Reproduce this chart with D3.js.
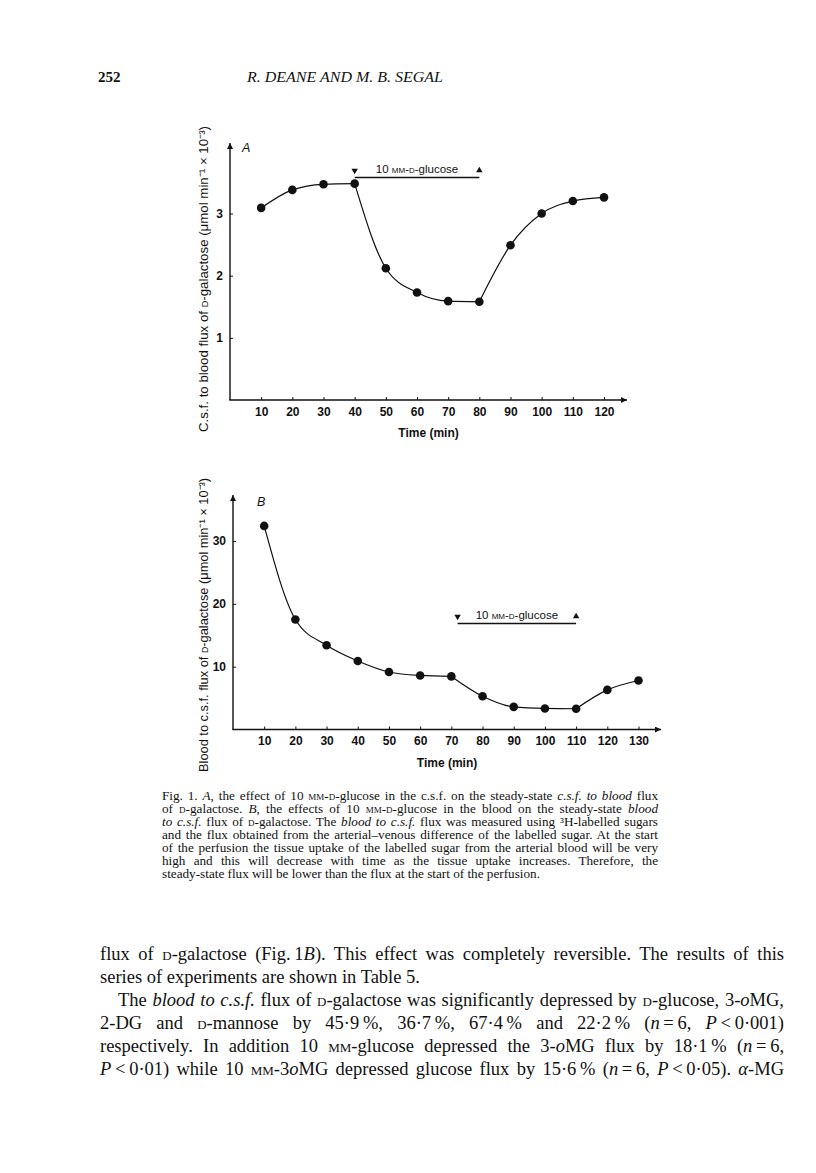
<!DOCTYPE html>
<html>
<head>
<meta charset="utf-8">
<script src="https://cdn.jsdelivr.net/npm/d3@7"></script>
<style>
  body { margin: 0; background: #fff; }
  text { fill: #111; }
</style>
</head>
<body>
<svg id="page" width="816" height="1173"></svg>
<script>
// ---- panel A: c.s.f. to blood flux ----
var timeA = [10, 20, 30, 40, 50, 60, 70, 80, 90, 100, 110, 120];
var fluxA = [3.09, 3.38, 3.47, 3.48, 2.12, 1.73, 1.59, 1.58, 2.49, 3.0, 3.2, 3.26];
var breaksA = [40, 80];          // the hand drawn curve has corners here
var glucoseA = [40, 80];         // 10 mM-D-glucose in the c.s.f.
var xTicksA = [10, 20, 30, 40, 50, 60, 70, 80, 90, 100, 110, 120];
var yTicksA = [1, 2, 3];

// ---- panel B: blood to c.s.f. flux ----
var timeB = [10, 20, 30, 40, 50, 60, 70, 80, 90, 100, 110, 120, 130];
var fluxB = [32.4, 17.5, 13.4, 10.9, 9.15, 8.6, 8.45, 5.3, 3.6, 3.35, 3.3, 6.3, 7.8];
var breaksB = [70, 110];
var glucoseB = [72, 110];        // 10 mM-D-glucose in the blood
var xTicksB = [10, 20, 30, 40, 50, 60, 70, 80, 90, 100, 110, 120, 130];
var yTicksB = [10, 20, 30];

// ---- text of the page: [text, style] pieces, style i = italic, sc = small caps ----
var header = ["252", "R. DEANE AND M. B. SEGAL"];

var caption = [
  [["Fig. 1. "], ["A", "i"], [", the effect of 10 "], ["mm-d-", "sc"], ["glucose in the c.s.f. on the steady-state "], ["c.s.f. to blood", "i"], [" flux"]],
  [["of "], ["d-", "sc"], ["galactose. "], ["B", "i"], [", the effects of 10 "], ["mm-d-", "sc"], ["glucose in the blood on the steady-state "], ["blood", "i"]],
  [["to c.s.f.", "i"], [" flux of "], ["d-", "sc"], ["galactose. The "], ["blood to c.s.f.", "i"], [" flux was measured using \u00b3H-labelled sugars"]],
  [["and the flux obtained from the arterial\u2013venous difference of the labelled sugar. At the start"]],
  [["of the perfusion the tissue uptake of the labelled sugar from the arterial blood will be very"]],
  [["high and this will decrease with time as the tissue uptake increases. Therefore, the"]],
  [["steady-state flux will be lower than the flux at the start of the perfusion."]]
];

var body = [
  [["flux of "], ["d-", "sc"], ["galactose (Fig.\u20091"], ["B", "i"], ["). This effect was completely reversible. The results of this"]],
  [["series of experiments are shown in Table 5."]],
  [["The "], ["blood to c.s.f.", "i"], [" flux of "], ["d-", "sc"], ["galactose was significantly depressed by "], ["d-", "sc"], ["glucose, 3-"], ["o", "i"], ["MG,"]],
  [["2-DG and "], ["d-", "sc"], ["mannose by 45\u00b79\u2009%, 36\u00b77\u2009%, 67\u00b74\u2009% and 22\u00b72\u2009% ("], ["n", "i"], ["\u2009=\u20096, "], ["P", "i"], ["\u2009<\u20090\u00b7001)"]],
  [["respectively. In addition 10 "], ["mm-", "sc"], ["glucose depressed the 3-"], ["o", "i"], ["MG flux by 18\u00b71\u2009% ("], ["n", "i"], ["\u2009=\u20096,"]],
  [["P", "i"], ["\u2009<\u20090\u00b701) while 10 "], ["mm-", "sc"], ["3"], ["o", "i"], ["MG depressed glucose flux by 15\u00b76\u2009% ("], ["n", "i"], ["\u2009=\u20096, "], ["P", "i"], ["\u2009<\u20090\u00b705). "], ["\u03b1", "i"], ["-MG"]]
];

var sans = "'Liberation Sans', Arial, Helvetica, sans-serif";
var serif = "'Liberation Serif', 'Times New Roman', serif";

var svg = d3.select("#page");
svg.append("rect").attr("width", 816).attr("height", 1173).attr("fill", "#fff");

var defs = svg.append("defs");
defs.append("marker")
    .attr("id", "arrow")
    .attr("viewBox", "0 0 10 10")
    .attr("refX", 10).attr("refY", 5)
    .attr("markerWidth", 7).attr("markerHeight", 6)
    .attr("markerUnits", "userSpaceOnUse")
    .attr("orient", "auto")
  .append("path")
    .attr("d", "M0,0L10,5L0,10z")
    .attr("fill", "#111");

function pieces(sel, parts) {
    parts.forEach(function(p) {
	var t = sel.append("tspan").text(p[0]);
	if (p[1] == "i") t.attr("font-style", "italic");
	if (p[1] == "sc") t.attr("font-variant", "small-caps");
    });
    return sel;
}

function drawPanel(o) {
    var g = svg.append("g");
    var x = d3.scaleLinear().domain([0, o.xMax]).range([o.left, o.right]);
    var y = d3.scaleLinear().domain([0, o.yMax]).range([o.bottom, o.top]);

    g.append("g")
	.attr("transform", "translate(0," + o.bottom + ")")
	.call(d3.axisBottom(x).tickValues(o.xTicks).tickSize(-3).tickPadding(7));
    g.append("g")
	.attr("transform", "translate(" + o.left + ",0)")
	.call(d3.axisLeft(y).tickValues(o.yTicks).tickSize(-3).tickPadding(7).tickFormat(d3.format("d")));
    g.selectAll(".domain").remove();
    g.selectAll(".tick line").attr("stroke", "#111").attr("stroke-width", 1);
    g.selectAll(".tick text")
	.attr("font-family", sans).attr("font-size", 12).attr("font-weight", "bold").attr("fill", "#111");

    // axes drawn as arrows
    g.append("line")
	.attr("x1", o.left).attr("y1", o.bottom).attr("x2", o.left).attr("y2", o.arrowTop)
	.attr("stroke", "#111").attr("stroke-width", 1.4).attr("marker-end", "url(#arrow)");
    g.append("line")
	.attr("x1", o.left - 0.7).attr("y1", o.bottom).attr("x2", o.arrowRight).attr("y2", o.bottom)
	.attr("stroke", "#111").attr("stroke-width", 1.4).attr("marker-end", "url(#arrow)");

    // curve, drawn piece by piece between the corners
    var pts = o.time.map(function(t, i) { return [t, o.flux[i]]; });
    var cuts = [o.time[0]].concat(o.breaks, [o.time[o.time.length - 1]]);
    var line = d3.line()
	.x(function(d) { return x(d[0]); })
	.y(function(d) { return y(d[1]); })
	.curve(d3.curveMonotoneX);
    for (var k = 0; k < cuts.length - 1; k++) {
	var seg = pts.filter(function(p) { return p[0] >= cuts[k] && p[0] <= cuts[k + 1]; });
	g.append("path").datum(seg)
	    .attr("d", line)
	    .attr("fill", "none").attr("stroke", "#111").attr("stroke-width", 1.2);
    }
    g.selectAll(".pt").data(pts).enter().append("circle")
	.attr("cx", function(d) { return x(d[0]); })
	.attr("cy", function(d) { return y(d[1]); })
	.attr("r", 4.3).attr("fill", "#111");

    // glucose bar
    var x0 = x(o.glucose[0]), x1 = x(o.glucose[1]);
    g.append("line")
	.attr("x1", x0).attr("x2", x1).attr("y1", o.barY).attr("y2", o.barY)
	.attr("stroke", "#111").attr("stroke-width", 1.6);
    var tri = d3.symbol().type(d3.symbolTriangle).size(18);
    g.append("path").attr("d", tri)
	.attr("transform", "translate(" + x0 + "," + (o.barY - 7) + ") rotate(180)").attr("fill", "#111");
    g.append("path").attr("d", tri)
	.attr("transform", "translate(" + x1 + "," + (o.barY - 7) + ")").attr("fill", "#111");
    pieces(g.append("text")
	.attr("x", (x0 + x1) / 2).attr("y", o.barY - 5)
	.attr("text-anchor", "middle")
	.attr("font-family", sans).attr("font-size", 11.5),
	   [["10 "], ["mm-d-", "sc"], ["glucose"]]);

    // panel letter
    g.append("text")
	.attr("x", o.letterX).attr("y", o.top - o.letterDy)
	.attr("font-family", sans).attr("font-size", 12.5).attr("font-style", "italic")
	.text(o.letter);

    // axis titles
    g.append("text")
	.attr("x", (o.left + o.arrowRight) / 2).attr("y", o.bottom + 37)
	.attr("text-anchor", "middle")
	.attr("font-family", sans).attr("font-size", 12).attr("font-weight", "bold")
	.text("Time (min)");
    pieces(g.append("text")
	.attr("transform", "translate(" + o.titleX + "," + o.titleY + ") rotate(-90)")
	.attr("text-anchor", "middle")
	.attr("font-family", sans).attr("font-size", 13)
	.attr("textLength", o.titleLen).attr("lengthAdjust", "spacingAndGlyphs"),
	   o.title);
}

drawPanel({
    time: timeA, flux: fluxA, breaks: breaksA, glucose: glucoseA,
    xTicks: xTicksA, yTicks: yTicksA, xMax: 120, yMax: 3,
    left: 230, right: 604, bottom: 400, top: 213.5,
    arrowTop: 143, arrowRight: 627, barY: 177.5,
    letter: "A", letterX: 242, letterDy: 62,
    titleX: 208, titleY: 279, titleLen: 306,
    title: [["C.s.f. to blood flux of "], ["d-", "sc"], ["galactose (\u03bcmol min\u207b\u00b9 \u00d7 10\u207b\u00b3)"]]
});

drawPanel({
    time: timeB, flux: fluxB, breaks: breaksB, glucose: glucoseB,
    xTicks: xTicksB, yTicks: yTicksB, xMax: 130, yMax: 30,
    left: 233, right: 638.5, bottom: 729.5, top: 541,
    arrowTop: 495, arrowRight: 661, barY: 623.5,
    letter: "B", letterX: 257, letterDy: 35,
    titleX: 208, titleY: 625, titleLen: 294,
    title: [["Blood to c.s.f. flux of "], ["d-", "sc"], ["galactose (\u03bcmol min\u207b\u00b9 \u00d7 10\u207b\u00b3)"]]
});

// ---- running head ----
svg.append("text").attr("x", 98).attr("y", 82)
    .attr("font-family", serif).attr("font-size", 15).attr("font-weight", "bold")
    .text(header[0]);
svg.append("text").attr("x", 345).attr("y", 82).attr("text-anchor", "middle")
    .attr("font-family", serif).attr("font-size", 15.5).attr("font-style", "italic")
    .attr("textLength", 196).attr("lengthAdjust", "spacingAndGlyphs")
    .text(header[1]);

// justified lines: widen the word spaces until the line fills its measure
function textBlock(lines, o) {
    lines.forEach(function(parts, i) {
	var x = o.left + (o.indent[i] || 0);
	var t = svg.append("text")
	    .attr("x", x).attr("y", o.top + i * o.lead)
	    .attr("font-family", serif).attr("font-size", o.size)
	    .attr("xml:space", "preserve");
	pieces(t, parts);
	if (o.ragged.indexOf(i) < 0) {
	    var len = t.node().getComputedTextLength();
	    var txt = parts.map(function(p) { return p[0]; }).join("");
	    var spaces = (txt.match(/ /g) || []).length;
	    var extra = ((o.right - x) - len) / spaces;
	    if (extra >= 0) t.attr("word-spacing", extra);
	    else t.attr("textLength", o.right - x).attr("lengthAdjust", "spacingAndGlyphs");
	}
    });
}

textBlock(caption, { left: 162, right: 658, top: 800, lead: 13, size: 13.2, indent: [], ragged: [6] });
textBlock(body, { left: 100, right: 784, top: 960, lead: 23, size: 18.5, indent: [0, 0, 18], ragged: [1] });
</script>
</body>
</html>
